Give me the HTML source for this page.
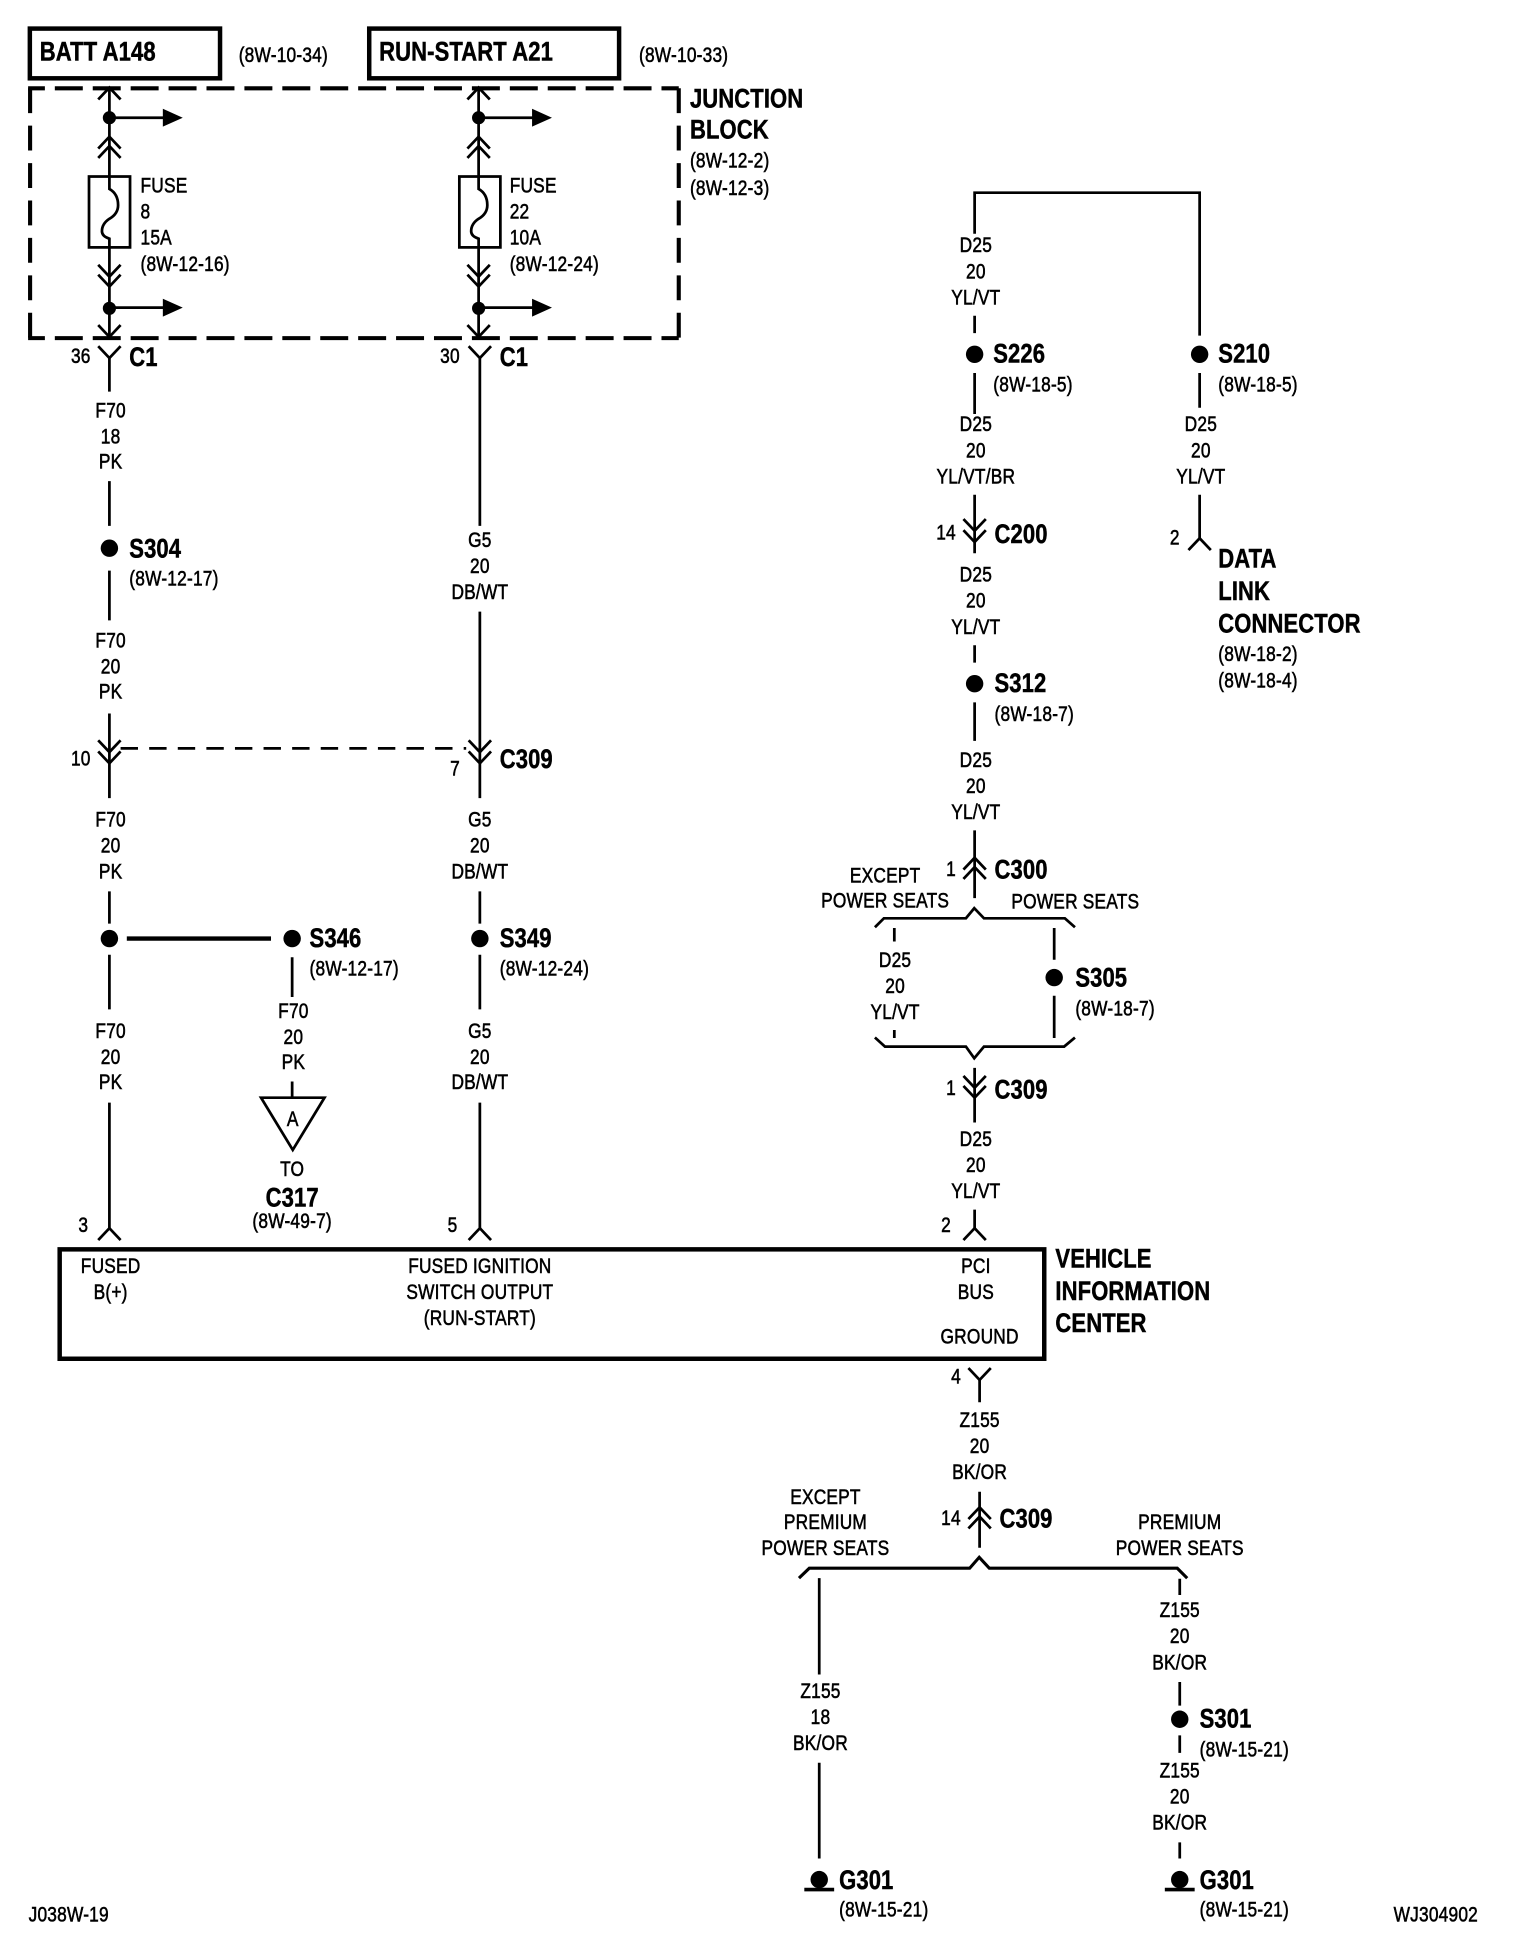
<!DOCTYPE html>
<html><head><meta charset="utf-8"><style>
html,body{margin:0;padding:0;background:#fff}
svg{display:block}
text{font-family:"Liberation Sans",Arial,sans-serif;font-size:17px;letter-spacing:.2px;fill:#000;stroke:#000;stroke-width:.45;dominant-baseline:central}
.b{font-size:21.6px;font-weight:bold;letter-spacing:.1px;stroke-width:.4}
.m{text-anchor:middle}
.w{fill:none;stroke:#000;stroke-width:2.2}
.t{fill:none;stroke:#000;stroke-width:3.6}
.d{fill:none;stroke:#000;stroke-width:3.3}
</style></head><body>
<svg width="1520" height="1948" viewBox="0 0 1222.7 1567" xmlns="http://www.w3.org/2000/svg">
<defs>
<path id="up" class="w" d="M-9 9.500L0 0L9 9.500"/>
<path id="dn" class="w" d="M-9 -9.500L0 0L9 -9.500"/>
<g id="arr"><path class="w" d="M0 0H44"/><path d="M43 -7.200L59 0L43 7.200Z"/></g>
</defs>
<rect width="1222.7" height="1567" fill="#fff"/>
<rect class="t" x="24" y="23" width="153" height="40"/>
<rect class="t" x="297" y="23" width="201" height="40"/>
<!-- dashed junction block -->
<path class="d" d="M22.600 71H546" stroke-dasharray="22.500 8" stroke-dashoffset="9"/>
<path class="d" d="M22.600 272H546" stroke-dasharray="22.500 8" stroke-dashoffset="9"/>
<path class="d" d="M24.200 71V272" stroke-dasharray="20 10.100"/>
<path class="d" d="M546 71V272" stroke-dasharray="20 10.100"/>

<!-- junction block wires -->
<path class="w" d="M88 71V142M88 199V271M385 71V142M385 199V271"/>
<path class="w" d="M88 142V152Q95 156 95 165Q95 172 88 176Q82 180 82 186Q82 190 88 192V199"/>
<path class="w" d="M385 142V152Q392 156 392 165Q392 172 385 176Q379 180 379 186Q379 190 385 192V199"/>
<rect x="71.600" y="142" width="33" height="57" fill="none" stroke="#000" stroke-width="2.2"/>
<rect x="369.500" y="142" width="33" height="57" fill="none" stroke="#000" stroke-width="2.2"/>
<use href="#up" x="88" y="70.500"/><use href="#up" x="385" y="70.500"/>
<use href="#up" x="88" y="110"/><use href="#up" x="88" y="117.500"/>
<use href="#up" x="385" y="110"/><use href="#up" x="385" y="117.500"/>
<use href="#dn" x="88" y="222.500"/><use href="#dn" x="88" y="230.500"/>
<use href="#dn" x="385" y="222.500"/><use href="#dn" x="385" y="230.500"/>
<use href="#dn" x="88" y="271"/><use href="#dn" x="385" y="271"/>
<circle cx="88" cy="94.700" r="5.300"/><circle cx="385" cy="94.700" r="5.300"/>
<circle cx="88" cy="248" r="5.300"/><circle cx="385" cy="248" r="5.300"/>
<use href="#arr" x="88" y="94.700"/><use href="#arr" x="385" y="94.700"/>
<use href="#arr" x="88" y="247.500"/><use href="#arr" x="385" y="247.500"/>

<!-- left wire -->
<use href="#dn" x="88" y="288"/><use href="#dn" x="386" y="288"/>
<path class="w" d="M88 288V315M88 387V423M88 459V499M88 574V642M88 717V743M88 768V812M88 887V988"/>
<use href="#dn" x="88" y="605"/><use href="#dn" x="88" y="614"/>
<circle cx="88" cy="441" r="7"/><circle cx="88" cy="755" r="7"/>
<path class="w" d="M97 602H375" stroke-dasharray="14 9"/>
<path d="M102 755H218" fill="none" stroke="#000" stroke-width="3.6"/>
<circle cx="235" cy="755" r="7"/>
<path class="w" d="M235 770V802M235 870V883"/>
<path class="w" d="M210 883H261L235.500 925Z"/>
<use href="#up" x="88" y="988"/><use href="#up" x="386" y="988"/>

<!-- second wire -->
<path class="w" d="M386 288V423M386 492V642M386 717V743M386 768V812M386 887V988"/>
<use href="#dn" x="386" y="605"/><use href="#dn" x="386" y="614"/>
<circle cx="386" cy="755" r="7"/>

<!-- main box -->
<rect class="t" x="48" y="1005" width="792" height="88"/>

<!-- right tree -->
<path class="w" d="M784 188V155H965V270M784 254V268M784 300V333M784 398V445M784 519V533M784 565V596M784 668V722.500"/>
<circle cx="784" cy="285" r="7"/><circle cx="965" cy="285" r="7"/><circle cx="784" cy="550" r="7"/>
<use href="#dn" x="784" y="427"/><use href="#dn" x="784" y="436"/>
<use href="#up" x="784" y="690"/><use href="#up" x="784" y="697.500"/>
<path class="w" d="M965 300V328M965 398V433"/><use href="#up" x="965" y="433"/>
<path class="w" d="M703.800 745.900L711 738.700H777L783.700 730.600L791.500 738.700H856.600L864.700 745.900"/>
<path class="w" d="M703.800 834.600L711.900 841.900H777L783.700 851.300L791.500 841.900H856L864.700 834.600"/>
<path class="w" d="M719.400 746.500V757.400M719.400 828.500V835M848 746.500V772M848 801V835"/>
<circle cx="848" cy="786.400" r="7"/>
<path class="w" d="M784 859V903M784 973V988"/>
<use href="#dn" x="784" y="875"/><use href="#dn" x="784" y="883"/>
<use href="#up" x="784" y="988"/>
<use href="#dn" x="788" y="1110"/>
<path class="w" d="M788 1110V1128M788 1200V1245"/>
<use href="#up" x="788" y="1212.500"/><use href="#up" x="788" y="1220"/>
<path class="w" d="M642.700 1269.500L651 1261.500H780L787.700 1252.700L795.800 1261.500H947L955 1269.500" style="stroke-width:2.500"/>
<path class="w" d="M659 1269.500V1347M659 1418V1495M949 1270V1283M949 1353V1372M949 1396V1410M949 1482V1495"/>
<circle cx="949" cy="1383" r="7"/>
<circle cx="659" cy="1512" r="7"/><circle cx="949" cy="1512" r="7"/>
<path d="M647 1520H671M937 1520H961" fill="none" stroke="#000" stroke-width="3"/>

<!-- bold text -->
<text class="b" transform="translate(32 42) scale(.82 1)">BATT A148</text>
<text class="b" transform="translate(305 42) scale(.82 1)">RUN-START A21</text>
<text class="b" transform="translate(555 80) scale(.82 1)">JUNCTION</text>
<text class="b" transform="translate(555 105) scale(.82 1)">BLOCK</text>
<text class="b" transform="translate(104 288) scale(.82 1)">C1</text>
<text class="b" transform="translate(402 288) scale(.82 1)">C1</text>
<text class="b" transform="translate(104 442) scale(.82 1)">S304</text>
<text class="b" transform="translate(402 611) scale(.82 1)">C309</text>
<text class="b" transform="translate(249 755) scale(.82 1)">S346</text>
<text class="b" transform="translate(402 755) scale(.82 1)">S349</text>
<text class="b m" transform="translate(235 964) scale(.82 1)">C317</text>
<text class="b" transform="translate(799 285) scale(.82 1)">S226</text>
<text class="b" transform="translate(980 285) scale(.82 1)">S210</text>
<text class="b" transform="translate(800 430) scale(.82 1)">C200</text>
<text class="b" transform="translate(980 450) scale(.82 1)">DATA</text>
<text class="b" transform="translate(980 476) scale(.82 1)">LINK</text>
<text class="b" transform="translate(980 502) scale(.82 1)">CONNECTOR</text>
<text class="b" transform="translate(800 550) scale(.82 1)">S312</text>
<text class="b" transform="translate(800 700) scale(.82 1)">C300</text>
<text class="b" transform="translate(865 787) scale(.82 1)">S305</text>
<text class="b" transform="translate(800 877) scale(.82 1)">C309</text>
<text class="b" transform="translate(849 1013) scale(.82 1)">VEHICLE</text>
<text class="b" transform="translate(849 1039) scale(.82 1)">INFORMATION</text>
<text class="b" transform="translate(849 1065) scale(.82 1)">CENTER</text>
<text class="b" transform="translate(804 1222) scale(.82 1)">C309</text>
<text class="b" transform="translate(965 1383) scale(.82 1)">S301</text>
<text class="b" transform="translate(675 1513) scale(.82 1)">G301</text>
<text class="b" transform="translate(965 1513) scale(.82 1)">G301</text>

<!-- refs -->
<text transform="translate(192 45) scale(.82 1)">(8W-10-34)</text>
<text transform="translate(514 45) scale(.82 1)">(8W-10-33)</text>
<text transform="translate(555 130) scale(.82 1)">(8W-12-2)</text>
<text transform="translate(555 152) scale(.82 1)">(8W-12-3)</text>
<text transform="translate(113 150) scale(.82 1)">FUSE</text>
<text transform="translate(113 171) scale(.82 1)">8</text>
<text transform="translate(113 192) scale(.82 1)">15A</text>
<text transform="translate(113 213) scale(.82 1)">(8W-12-16)</text>
<text transform="translate(410 150) scale(.82 1)">FUSE</text>
<text transform="translate(410 171) scale(.82 1)">22</text>
<text transform="translate(410 192) scale(.82 1)">10A</text>
<text transform="translate(410 213) scale(.82 1)">(8W-12-24)</text>
<text transform="translate(104 466) scale(.82 1)">(8W-12-17)</text>
<text transform="translate(249 780) scale(.82 1)">(8W-12-17)</text>
<text transform="translate(402 780) scale(.82 1)">(8W-12-24)</text>
<text class="m" transform="translate(235 983) scale(.82 1)">(8W-49-7)</text>
<text transform="translate(799 310) scale(.82 1)">(8W-18-5)</text>
<text transform="translate(980 310) scale(.82 1)">(8W-18-5)</text>
<text transform="translate(980 527) scale(.82 1)">(8W-18-2)</text>
<text transform="translate(980 548) scale(.82 1)">(8W-18-4)</text>
<text transform="translate(800 575) scale(.82 1)">(8W-18-7)</text>
<text transform="translate(865 812) scale(.82 1)">(8W-18-7)</text>
<text transform="translate(965 1408) scale(.82 1)">(8W-15-21)</text>
<text transform="translate(675 1537) scale(.82 1)">(8W-15-21)</text>
<text transform="translate(965 1537) scale(.82 1)">(8W-15-21)</text>
<text transform="translate(23 1541) scale(.82 1)">J038W-19</text>
<text transform="translate(1121 1541) scale(.82 1)">WJ304902</text>

<!-- pins -->
<text class="m" transform="translate(65 287) scale(.82 1)">36</text>
<text class="m" transform="translate(362 287) scale(.82 1)">30</text>
<text class="m" transform="translate(65 611) scale(.82 1)">10</text>
<text class="m" transform="translate(366 619) scale(.82 1)">7</text>
<text class="m" transform="translate(67 986) scale(.82 1)">3</text>
<text class="m" transform="translate(364 986) scale(.82 1)">5</text>
<text class="m" transform="translate(761 429) scale(.82 1)">14</text>
<text class="m" transform="translate(945 433) scale(.82 1)">2</text>
<text class="m" transform="translate(765 700) scale(.82 1)">1</text>
<text class="m" transform="translate(765 876) scale(.82 1)">1</text>
<text class="m" transform="translate(761 986) scale(.82 1)">2</text>
<text class="m" transform="translate(769 1108) scale(.82 1)">4</text>
<text class="m" transform="translate(765 1222) scale(.82 1)">14</text>

<!-- wire labels -->
<text class="m" transform="translate(89 331) scale(.82 1)">F70</text>
<text class="m" transform="translate(89 352) scale(.82 1)">18</text>
<text class="m" transform="translate(89 372) scale(.82 1)">PK</text>
<text class="m" transform="translate(89 516) scale(.82 1)">F70</text>
<text class="m" transform="translate(89 537) scale(.82 1)">20</text>
<text class="m" transform="translate(89 557) scale(.82 1)">PK</text>
<text class="m" transform="translate(89 660) scale(.82 1)">F70</text>
<text class="m" transform="translate(89 681) scale(.82 1)">20</text>
<text class="m" transform="translate(89 702) scale(.82 1)">PK</text>
<text class="m" transform="translate(89 830) scale(.82 1)">F70</text>
<text class="m" transform="translate(89 851) scale(.82 1)">20</text>
<text class="m" transform="translate(89 871) scale(.82 1)">PK</text>
<text class="m" transform="translate(236 814) scale(.82 1)">F70</text>
<text class="m" transform="translate(236 835) scale(.82 1)">20</text>
<text class="m" transform="translate(236 855) scale(.82 1)">PK</text>
<text class="m" transform="translate(235.500 901) scale(.82 1)">A</text>
<text class="m" transform="translate(235 941) scale(.82 1)">TO</text>
<text class="m" transform="translate(386 435) scale(.82 1)">G5</text>
<text class="m" transform="translate(386 456) scale(.82 1)">20</text>
<text class="m" transform="translate(386 477) scale(.82 1)">DB/WT</text>
<text class="m" transform="translate(386 660) scale(.82 1)">G5</text>
<text class="m" transform="translate(386 681) scale(.82 1)">20</text>
<text class="m" transform="translate(386 702) scale(.82 1)">DB/WT</text>
<text class="m" transform="translate(386 830) scale(.82 1)">G5</text>
<text class="m" transform="translate(386 851) scale(.82 1)">20</text>
<text class="m" transform="translate(386 871) scale(.82 1)">DB/WT</text>
<text class="m" transform="translate(785 198) scale(.82 1)">D25</text>
<text class="m" transform="translate(785 219) scale(.82 1)">20</text>
<text class="m" transform="translate(785 240) scale(.82 1)">YL/VT</text>
<text class="m" transform="translate(785 342) scale(.82 1)">D25</text>
<text class="m" transform="translate(785 363) scale(.82 1)">20</text>
<text class="m" transform="translate(785 384) scale(.82 1)">YL/VT/BR</text>
<text class="m" transform="translate(966 342) scale(.82 1)">D25</text>
<text class="m" transform="translate(966 363) scale(.82 1)">20</text>
<text class="m" transform="translate(966 384) scale(.82 1)">YL/VT</text>
<text class="m" transform="translate(785 463) scale(.82 1)">D25</text>
<text class="m" transform="translate(785 484) scale(.82 1)">20</text>
<text class="m" transform="translate(785 505) scale(.82 1)">YL/VT</text>
<text class="m" transform="translate(785 612) scale(.82 1)">D25</text>
<text class="m" transform="translate(785 633) scale(.82 1)">20</text>
<text class="m" transform="translate(785 654) scale(.82 1)">YL/VT</text>
<text class="m" transform="translate(712 705) scale(.82 1)">EXCEPT</text>
<text class="m" transform="translate(712 725) scale(.82 1)">POWER SEATS</text>
<text class="m" transform="translate(865 726) scale(.82 1)">POWER SEATS</text>
<text class="m" transform="translate(720 773) scale(.82 1)">D25</text>
<text class="m" transform="translate(720 794) scale(.82 1)">20</text>
<text class="m" transform="translate(720 815) scale(.82 1)">YL/VT</text>
<text class="m" transform="translate(785 917) scale(.82 1)">D25</text>
<text class="m" transform="translate(785 938) scale(.82 1)">20</text>
<text class="m" transform="translate(785 959) scale(.82 1)">YL/VT</text>
<text class="m" transform="translate(89 1019) scale(.82 1)">FUSED</text>
<text class="m" transform="translate(89 1040) scale(.82 1)">B(+)</text>
<text class="m" transform="translate(386 1019) scale(.82 1)">FUSED IGNITION</text>
<text class="m" transform="translate(386 1040) scale(.82 1)">SWITCH OUTPUT</text>
<text class="m" transform="translate(386 1061) scale(.82 1)">(RUN-START)</text>
<text class="m" transform="translate(785 1019) scale(.82 1)">PCI</text>
<text class="m" transform="translate(785 1040) scale(.82 1)">BUS</text>
<text class="m" transform="translate(788 1076) scale(.82 1)">GROUND</text>
<text class="m" transform="translate(788 1143) scale(.82 1)">Z155</text>
<text class="m" transform="translate(788 1164) scale(.82 1)">20</text>
<text class="m" transform="translate(788 1185) scale(.82 1)">BK/OR</text>
<text class="m" transform="translate(664 1205) scale(.82 1)">EXCEPT</text>
<text class="m" transform="translate(664 1225) scale(.82 1)">PREMIUM</text>
<text class="m" transform="translate(664 1246) scale(.82 1)">POWER SEATS</text>
<text class="m" transform="translate(949 1225) scale(.82 1)">PREMIUM</text>
<text class="m" transform="translate(949 1246) scale(.82 1)">POWER SEATS</text>
<text class="m" transform="translate(660 1361) scale(.82 1)">Z155</text>
<text class="m" transform="translate(660 1382) scale(.82 1)">18</text>
<text class="m" transform="translate(660 1403) scale(.82 1)">BK/OR</text>
<text class="m" transform="translate(949 1296) scale(.82 1)">Z155</text>
<text class="m" transform="translate(949 1317) scale(.82 1)">20</text>
<text class="m" transform="translate(949 1338) scale(.82 1)">BK/OR</text>
<text class="m" transform="translate(949 1425) scale(.82 1)">Z155</text>
<text class="m" transform="translate(949 1446) scale(.82 1)">20</text>
<text class="m" transform="translate(949 1467) scale(.82 1)">BK/OR</text>
</svg>
</body></html>
